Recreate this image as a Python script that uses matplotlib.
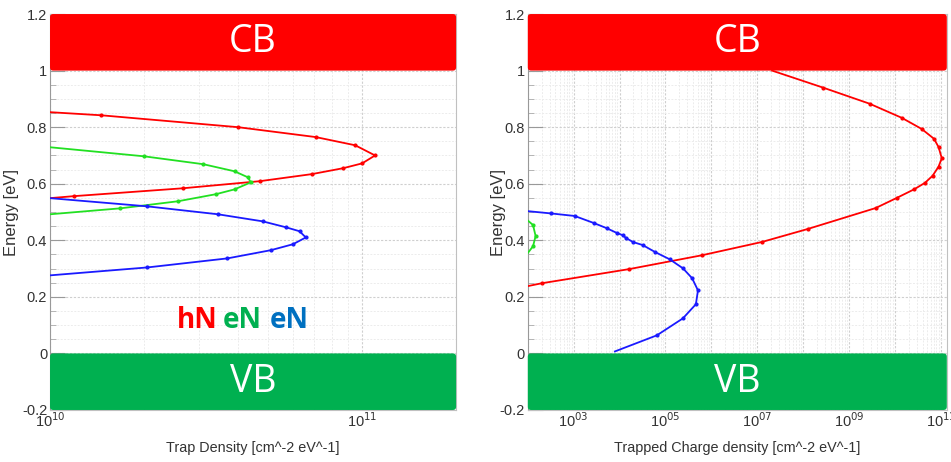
import numpy as np
import matplotlib
matplotlib.use('Agg')
import matplotlib.pyplot as plt
from matplotlib import ticker
from matplotlib.patches import FancyBboxPatch
from matplotlib.transforms import blended_transform_factory

# ---- left panel: trap density vs energy ----
hN_dens = [1.0e10, 1.19e10, 2.67e10, 4.7e10, 6.9e10, 8.7e10, 1.0e11, 1.1e11,
           9.5e10, 7.1e10, 4.0e10, 1.46e10, 1.0e10]
hN_E = [0.549, 0.556, 0.584, 0.609, 0.634, 0.655, 0.672, 0.70,
        0.736, 0.765, 0.80, 0.842, 0.853]

eN1_dens = [1.0e10, 1.68e10, 2.57e10, 3.4e10, 3.9e10, 4.4e10, 4.3e10, 3.9e10,
            3.1e10, 2.0e10, 1.0e10]
eN1_E = [0.492, 0.513, 0.538, 0.563, 0.58, 0.605, 0.623, 0.644,
         0.669, 0.697, 0.729]

eN2_dens = [1.0e10, 2.05e10, 3.7e10, 5.1e10, 6.0e10, 6.6e10, 6.3e10, 5.7e10,
            4.8e10, 3.45e10, 2.05e10, 1.0e10]
eN2_E = [0.276, 0.304, 0.336, 0.365, 0.386, 0.41, 0.432, 0.446,
         0.467, 0.492, 0.520, 0.549]

# ---- right panel: trapped charge density vs energy ----
hN_q = [1.0e2, 2.0e2, 1.6e4, 6.2e5, 1.26e7, 1.26e8, 3.8e9, 1.1e10, 2.6e10,
        4.5e10, 6.6e10, 8.9e10, 1.05e11, 8.9e10, 7.1e10, 3.8e10, 1.41e10,
        2.8e9, 2.7e8, 2.1e7]
hN_qE = [0.238, 0.248, 0.298, 0.347, 0.394, 0.44, 0.514, 0.55, 0.58,
         0.603, 0.628, 0.66, 0.69, 0.73, 0.759, 0.794, 0.833,
         0.883, 0.94, 1.0]

eN2_q = [7.9e3, 6.5e4, 2.4e5, 4.6e5, 5.1e5, 3.8e5, 2.4e5, 1.23e5, 6.0e4,
         3.2e4, 1.95e4, 1.38e4, 1.17e4, 8.7e3, 5.2e3, 2.75e3, 1.05e3,
         3.2e2, 1.0e2]
eN2_qE = [0.007, 0.064, 0.124, 0.174, 0.223, 0.266, 0.301, 0.333, 0.358,
          0.383, 0.394, 0.408, 0.418, 0.426, 0.443, 0.461, 0.486, 0.495, 0.503]

eN1_q = [1.0e2, 1.3e2, 1.48e2, 1.3e2, 1.0e2]
eN1_qE = [0.355, 0.379, 0.415, 0.454, 0.47]

CB = (1.0, 1.2)
VB = (-0.2, 0.0)

RED = '#ff0000'
GREEN = '#22e022'
BLUE = '#1a1aff'
BAND_RED = '#ff0000'
BAND_GREEN = '#00b050'

plt.rcParams['font.family'] = ['Liberation Sans', 'DejaVu Sans']

fig = plt.figure(figsize=(9.51, 4.62), dpi=100)
axL = fig.add_axes([0.0526, 0.1126, 0.427, 0.857])
axR = fig.add_axes([0.555, 0.1126, 0.4406, 0.857])


def draw_band(ax, lo, hi, color, label):
    tr = blended_transform_factory(ax.transAxes, ax.transData)
    box = FancyBboxPatch((0.0, lo), 1.0, hi - lo,
                         boxstyle="round,pad=0,rounding_size=0.008",
                         mutation_aspect=1.4, transform=tr,
                         facecolor=color, edgecolor='none', zorder=5,
                         clip_on=False)
    ax.add_patch(box)
    ax.text(0.5, (lo + hi) / 2, label, transform=tr, ha='center',
            va='center', color='white', fontsize=27, family='Open Sans',
            zorder=6)


def style_axes(ax, label_x):
    ax.set_ylim(-0.2, 1.2)
    ax.yaxis.set_major_locator(ticker.MultipleLocator(0.2))
    ax.yaxis.set_minor_locator(ticker.MultipleLocator(0.05))
    ax.yaxis.set_major_formatter(ticker.FuncFormatter(
        lambda v, p: '0' if abs(v) < 1e-9 else ('%g' % round(v, 1))))
    ax.grid(True, which='major', color='#cfcfcf', lw=0.8, ls=(0, (2, 1.5)))
    ax.grid(True, which='minor', color='#ececec', lw=0.7, ls=(0, (2, 1.5)))
    ax.set_axisbelow(True)
    ax.tick_params(which='major', direction='in', length=11, color='#999999',
                   labelsize=10.5, labelcolor='#333333', pad=2)
    ax.tick_params(which='minor', direction='in', length=4, color='#aaaaaa')
    ax.tick_params(axis='x', which='major', length=0, pad=1)
    for s in ax.spines.values():
        s.set_color('#c0c0c0')
    ax.spines['left'].set_color('#999999')
    ax.set_ylabel('Energy [eV]', fontsize=12, color='#333333')
    ax.yaxis.set_label_coords(label_x, 0.5)


def plot_curve(ax, x, y, c):
    ax.plot(x, y, '-', color=c, lw=1.3, marker='o', ms=2.0,
            markevery=slice(1, -1), zorder=3)


# left panel
axL.set_xscale('log')
axL.set_xlim(1e10, 2e11)
plot_curve(axL, hN_dens, hN_E, RED)
plot_curve(axL, eN1_dens, eN1_E, GREEN)
plot_curve(axL, eN2_dens, eN2_E, BLUE)
style_axes(axL, -0.076)
axL.xaxis.set_major_locator(ticker.FixedLocator([1e10, 1e11]))
axL.xaxis.set_major_formatter(ticker.FuncFormatter(
    lambda v, p: r'10$^{%d}$' % round(np.log10(v))))
axL.xaxis.set_minor_locator(ticker.LogLocator(base=10, subs=np.arange(2, 10)))
axL.xaxis.set_minor_formatter(ticker.NullFormatter())
axL.set_xlabel('Trap Density [cm^-2 eV^-1]', fontsize=10.4, color='#333333',
               labelpad=8)
draw_band(axL, CB[0], CB[1], BAND_RED, 'CB')
draw_band(axL, VB[0], VB[1], BAND_GREEN, 'VB')

legend_words = [('hN', '#ff0000', 0.313), ('eN', '#00b050', 0.426),
                ('eN', '#0070c0', 0.542)]
for word, col, xpos in legend_words:
    axL.text(xpos, 0.227, word, transform=axL.transAxes, color=col,
             fontsize=20, fontweight='bold', family='Open Sans',
             ha='left', va='center', zorder=6)

# right panel
axR.set_xscale('log')
axR.set_xlim(1e2, 1.35e11)
plot_curve(axR, hN_q, hN_qE, RED)
plot_curve(axR, eN1_q, eN1_qE, GREEN)
plot_curve(axR, eN2_q, eN2_qE, BLUE)
style_axes(axR, -0.0525)
decades = [10.0 ** k for k in range(2, 12)]
axR.xaxis.set_major_locator(ticker.FixedLocator(decades))
axR.xaxis.set_major_formatter(ticker.FuncFormatter(
    lambda v, p: (r'10$^{%02d}$' % round(np.log10(v)))
    if round(np.log10(v)) % 2 == 1 else ''))
axR.xaxis.set_minor_locator(ticker.LogLocator(base=10, subs=np.arange(2, 10),
                                              numticks=50))
axR.xaxis.set_minor_formatter(ticker.NullFormatter())
axR.set_xlabel('Trapped Charge density [cm^-2 eV^-1]', fontsize=10.4,
               color='#333333', labelpad=8)
draw_band(axR, CB[0], CB[1], BAND_RED, 'CB')
draw_band(axR, VB[0], VB[1], BAND_GREEN, 'VB')

fig.savefig('out.png', dpi=100, facecolor='w')
